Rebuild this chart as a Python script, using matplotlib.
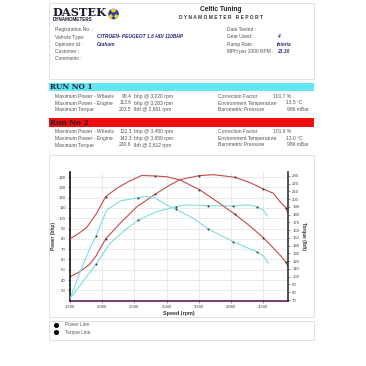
import matplotlib
matplotlib.use("Agg")
import matplotlib.pyplot as plt
from matplotlib.patches import Rectangle, Circle, Polygon
from matplotlib.ticker import FuncFormatter, FixedLocator

plt.rcParams['font.family'] = ['Liberation Sans', 'DejaVu Sans']

# ---------------- data ----------------
# Run 1 (cyan)
rpm_power_run1 = [1500, 1700, 1904, 2121, 2354, 2561, 2846, 3146, 3283, 3648, 4036, 4269, 4398, 4502, 4564]
power_run1 = [22, 38.5, 55.3, 75.7, 88.6, 98.3, 106.4, 111.3, 113.0, 112.2, 111.9, 113.0, 111.3, 108, 102.2]
rpm_torque_run1 = [1500, 1650, 1800, 1904, 2069, 2276, 2561, 2661, 2794, 3001, 3146, 3415, 3648, 3829, 4036, 4398, 4502, 4580]
torque_run1 = [71.5, 105, 135, 152.6, 186, 197.7, 202, 203.5, 203, 192.6, 187, 175.4, 161.6, 153.9, 145.2, 132.3, 126.8, 117.4]
marker_rpm_run1 = [1904, 2561, 3146, 3648, 4036, 4398]

# Run 2 (red)
rpm_power_run2 = [1500, 1650, 1800, 1900, 2054, 2276, 2535, 2820, 3053, 3208, 3508, 3726, 4062, 4300, 4502, 4657, 4761, 4849, 4885]
power_run2 = [43.3, 48, 55, 63, 80, 95, 111, 123.3, 132.3, 137.5, 141.4, 142.3, 139.8, 134.5, 128.4, 124.3, 116, 110.3, 105]
rpm_torque_run2 = [1500, 1620, 1759, 1914, 2054, 2225, 2406, 2612, 2820, 3001, 3208, 3508, 3800, 4062, 4300, 4502, 4761, 4849, 4885]
torque_run2 = [148.7, 155, 163.5, 181.9, 203.3, 214, 222.6, 230.6, 230, 229, 224.8, 212.5, 196, 180.6, 165, 150.4, 128, 119.4, 113]
marker_rpm_run2 = [2054, 2820, 3508, 4062, 4502, 4849]

x_ticks = [1500, 2000, 2500, 3000, 3500, 4000, 4500]
power_ticks = list(range(30, 150, 10))
torque_ticks = list(range(70, 240, 10))

header_left = [("Registration No. :", ""), ("Vehicle Type:", "CITROEN- PEUGEOT 1.6 HDI 110BHP"),
               ("Operator Id :", "Graham"), ("Customer :", ""), ("Comments :", "")]
header_right = [("Date Tested :", ""), ("Gear Used:", "4"), ("Ramp Rate :", "Interia"),
                ("MPH per 1000 RPM :", "23.30")]

run_labels = ["Maximum Power - Wheels", "Maximum Power - Engine", "Maximum Torque"]
run1_values = ["95.4", "113.6", "203.5"]
run1_units = ["bhp @ 3,220 rpm", "bhp @ 3,283 rpm", "lbft @ 2,661 rpm"]
run2_values = ["122.3", "142.3", "230.6"]
run2_units = ["bhp @ 3,450 rpm", "bhp @ 3,659 rpm", "lbft @ 2,612 rpm"]
env_labels = ["Correction Factor", "Environment Temperature", "Barometric Pressure"]
run1_env = ["101.7 %", "13.5 °C", "986 mBar"]
run2_env = ["101.6 %", "13.0 °C", "986 mBar"]

RED = '#c64a48'
CYAN = '#7fdde0'
NAVY = '#2b2b78'
GREY = '#555555'

fig = plt.figure(figsize=(3.66, 3.66), dpi=100)
fig.patch.set_facecolor('white')

# background overlay in pixel coordinates
bg = fig.add_axes([0, 0, 1, 1], zorder=0)
bg.set_xlim(0, 366)
bg.set_ylim(366, 0)
bg.axis('off')

# header box
bg.add_patch(Rectangle((49, 2.7), 265, 76, fill=False, ec='#dcdcdc', lw=0.6))
bg.text(52.5, 16, "DASTEK", family='DejaVu Serif', weight='bold', fontsize=8.2,
        color='#1c1c2c', va='baseline', ha='left')
bg.text(53, 21.3, "DYNAMOMETERS", weight='bold', fontsize=3.3, color='#1c1c2c',
        va='baseline', ha='left')
bg.add_patch(Circle((113.5, 14), 4.6, color='#2d3f96'))
bg.add_patch(Polygon([(113.5, 14), (111.5, 9.8), (115.5, 9.8)], color='#f2d22e'))
bg.add_patch(Polygon([(113.5, 14), (109.0, 16.0), (111.0, 18.2)], color='#f2d22e'))
bg.add_patch(Polygon([(113.5, 14), (118.0, 16.0), (116.0, 18.2)], color='#f2d22e'))
bg.add_patch(Circle((113.5, 14), 1.2, color='#2d3f96'))

bg.text(220.7, 9.3, "Celtic Tuning", weight='bold', fontsize=4.8, color='#222222',
        ha='center', va='center')
bg.text(220.7, 17.3, " ".join("DYNAMOMETER") + "   " + " ".join("REPORT"), weight='bold',
        fontsize=3.5, color='#333333', ha='center', va='center')

row_y = [29.7, 37, 44.3, 51.7, 59]
for (lab, val), y in zip(header_left, row_y):
    bg.text(55, y, lab, fontsize=3.5, color=GREY, va='center')
    if val:
        bg.text(96.7, y, val, fontsize=3.5, color=NAVY, weight='bold', style='italic', va='center')
for (lab, val), y in zip(header_right, row_y):
    bg.text(226.7, y, lab, fontsize=3.5, color=GREY, va='center')
    if val:
        bg.text(276.7, y, val, fontsize=3.5, color=NAVY, weight='bold', style='italic', va='center')

# run banners
def run_block(y0, color, title, values, units, env):
    bg.add_patch(Rectangle((49, y0), 265, 8.6, color=color, lw=0))
    bg.text(50, y0 + 4.6, title, family='DejaVu Serif', weight='bold', fontsize=5.3,
            color='#1a2433', va='center', ha='left')
    ys = [y0 + 13.6, y0 + 20.3, y0 + 27.0]
    env_x = [273.3, 285.7, 286.7]
    for lab, v, u, el, ev, ex, y in zip(run_labels, values, units, env_labels, env, env_x, ys):
        bg.text(55, y, lab, fontsize=3.6, color=GREY, va='center')
        bg.text(131.7, y, v, fontsize=3.6, color=GREY, va='center', ha='right')
        bg.text(134.3, y, u, fontsize=3.6, color=GREY, va='center')
        bg.text(217.7, y, el, fontsize=3.6, color=GREY, va='center')
        bg.text(ex, y, ev, fontsize=3.6, color=GREY, va='center')

run_block(82.7, '#62e6f6', "RUN NO 1", run1_values, run1_units, run1_env)
run_block(118.0, '#f20d0d', "Run No 2", run2_values, run2_units, run2_env)

# chart and legend boxes
bg.add_patch(Rectangle((49, 155.3), 265, 161.4, fill=False, ec='#dcdcdc', lw=0.6))
bg.add_patch(Rectangle((49, 321.3), 265, 18.7, fill=False, ec='#dcdcdc', lw=0.6))
bg.plot([56], [325], marker='o', ms=2.6, color='black', ls='none')
bg.plot([56], [332.3], marker='o', ms=2.6, color='black', ls='none')
bg.text(65, 325, "Power Line", fontsize=3.4, color=GREY, va='center')
bg.text(65, 332.3, "Torque Line", fontsize=3.4, color=GREY, va='center')

# ---------------- chart ----------------
L, R, B, T = 70 / 366, 288 / 366, 1 - 300.7 / 366, 1 - 171.7 / 366
ax = fig.add_axes([L, B, R - L, T - B], zorder=2)
ax.patch.set_alpha(0)
ax2 = ax.twinx()
ax2.patch.set_alpha(0)

ax.set_xlim(1500, 4885)
ax.set_ylim(20, 145.2)
ax2.set_ylim(69.1, 235.5)

ax.xaxis.set_major_locator(FixedLocator(x_ticks))
ax.xaxis.set_major_formatter(FuncFormatter(lambda v, p: f"{int(v):,}"))
ax.yaxis.set_major_locator(FixedLocator(power_ticks))
ax2.yaxis.set_major_locator(FixedLocator(torque_ticks))
ax.grid(True, color='#e2e2e2', lw=0.5)
ax.set_axisbelow(True)

def idx(rpms, marks):
    return [rpms.index(m) for m in marks]

mk = dict(marker='s', ms=0.9, mfc='#333333', mec='#333333', mew=0.3)
ax.plot(rpm_power_run1, power_run1, color=CYAN, lw=0.8,
        markevery=idx(rpm_power_run1, marker_rpm_run1), **mk)
ax2.plot(rpm_torque_run1, torque_run1, color=CYAN, lw=0.8,
         markevery=idx(rpm_torque_run1, marker_rpm_run1), **mk)
ax.plot(rpm_power_run2, power_run2, color=RED, lw=0.8,
        markevery=idx(rpm_power_run2, marker_rpm_run2), **mk)
ax2.plot(rpm_torque_run2, torque_run2, color=RED, lw=0.8,
         markevery=idx(rpm_torque_run2, marker_rpm_run2), **mk)

for a in (ax, ax2):
    a.spines['top'].set_visible(False)
ax.spines['right'].set_visible(False)
ax2.spines['left'].set_visible(False)
ax2.spines['bottom'].set_visible(False)
ax.spines['left'].set_color('#111111')
ax.spines['left'].set_linewidth(1.2)
ax.spines['bottom'].set_color('#5c1e5c')
ax.spines['bottom'].set_linewidth(1.2)
ax2.spines['right'].set_color('#333333')
ax2.spines['right'].set_linewidth(1.2)

ax.tick_params(axis='both', labelsize=3.1, colors='#444444', length=1.5, width=0.4, pad=1.5)
ax2.tick_params(axis='y', labelsize=3.1, colors='#444444', length=1.5, width=0.4, pad=1.5)

ax.set_xlabel("Speed (rpm)", fontsize=3.9, weight='bold', color='#333333', labelpad=1.2)
ax.set_ylabel("Power (bhp)", fontsize=3.4, weight='bold', color='#333333', labelpad=2)
ax2.set_ylabel("Torque (lbft)", fontsize=3.4, weight='bold', color='#333333', rotation=270,
               labelpad=5)

fig.savefig("out.png", dpi=100, facecolor='white')
